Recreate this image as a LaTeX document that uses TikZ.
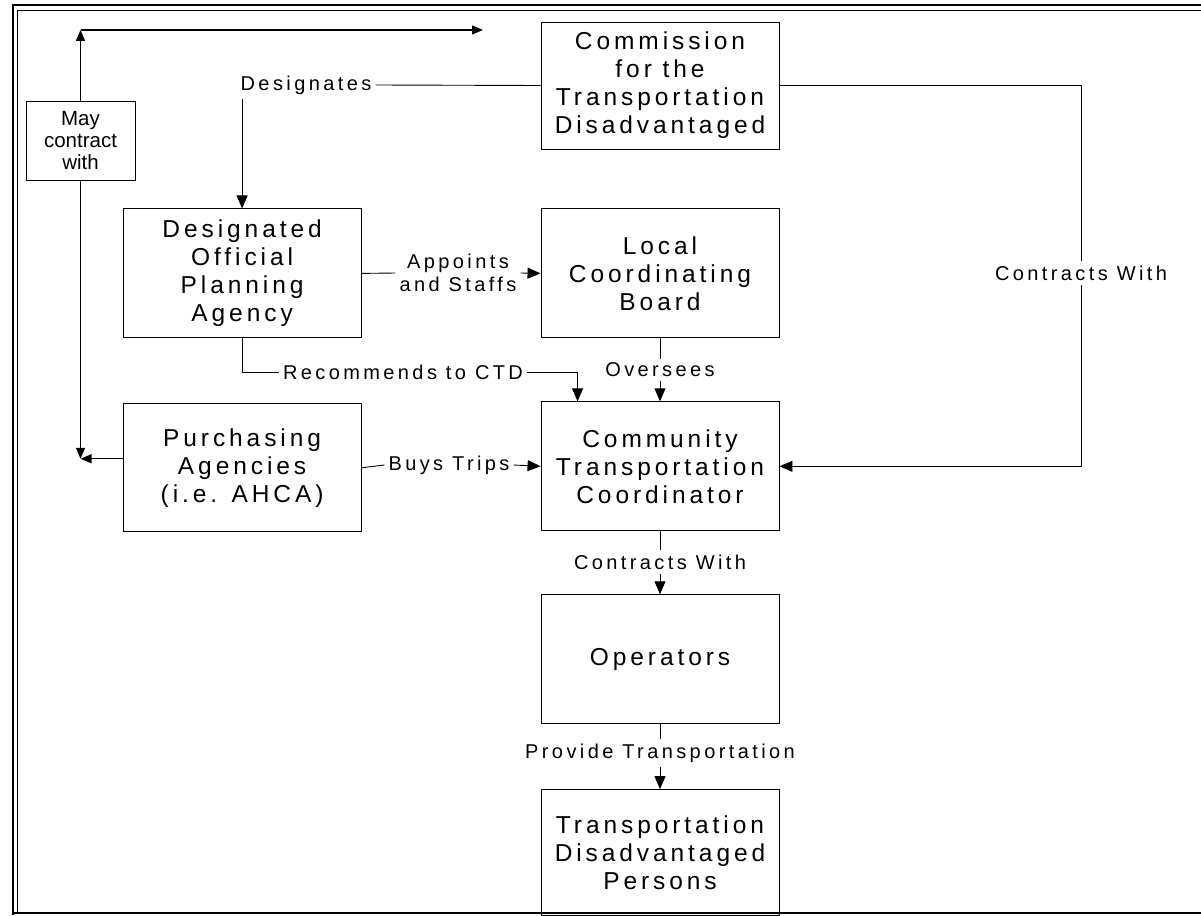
\documentclass[tikz,border=0pt]{standalone}
\usepackage{fontspec}
\setmainfont{Liberation Sans}
\newfontfamily\wideface[LetterSpace=16]{Liberation Sans}
\newfontfamily\tagface[LetterSpace=17]{Liberation Sans}
\usetikzlibrary{positioning,arrows.meta,calc}

\begin{document}
\begin{tikzpicture}[x=1pt, y=-1pt,
        agency/.style={draw, line width=0.9pt, align=center, minimum width=238pt, minimum height=129pt, inner sep=2pt, font=\wideface\fontsize{24.5}{28}\selectfont},
        maybox/.style={draw, line width=0.9pt, align=center, minimum width=109pt, minimum height=79pt, inner sep=1pt, font=\fontsize{20.5}{22}\selectfont},
        tag/.style={align=center, inner sep=4pt, font=\tagface\fontsize{20}{23}\selectfont},
        link/.style={line width=0.9pt},
        flow/.style={link, -{Triangle[width=11pt,length=13pt]}},
        loopflow/.style={line width=1.3pt, -{Triangle[width=9pt,length=11pt]}},
        ]
    \useasboundingbox (0,0) rectangle (1201,915);

    % Nodes
    \node[agency, minimum height=127pt] (ctd) at (660,85.5) {Commission\\for the\\Transportation\\Disadvantaged};
    \node[agency] (lcb) [below=59pt of ctd] {Local\\Coordinating\\Board};
    \node[agency] (ctc) [below=63pt of lcb] {Community\\Transportation\\Coordinator};
    \node[agency] (operators) [below=63pt of ctc] {Operators};
    \node[agency, minimum height=126pt] (tdpersons) [below=65pt of operators] {Transportation\\Disadvantaged\\Persons};
    \node[agency] (dopa) [left=179pt of lcb] {Designated\\Official\\Planning\\Agency};
    \node[agency, minimum height=128pt] (purchasing) [below=65pt of dopa] {Purchasing\\Agencies\\(i.e. AHCA)};
    \node[maybox] (maycontract) at (80.5,140.5) {May\\contract\\with};

    % Labels
    \node[tag] (designates) at (306,85) {Designates};
    \node[tag] (appoints) at (458,273) {Appoints\\and Staffs};
    \node[tag] (recommends) at (403,372) {Recommends to CTD};
    \node[tag] (oversees) at (660,370) {Oversees};
    \node[tag] (buys) at (449,465) {Buys Trips};
    \node[tag] (cwright) at (1081,273) {Contracts With};
    \node[tag] (cwlow) at (660,562) {Contracts With};
    \node[tag] (provide) at (660,753) {Provide Transportation};
    \coordinate (ctcin) at ([xshift=37pt]ctc.north west);
    \coordinate (corner) at (80.5,30);
    \coordinate (topend) at (483,30);
    \coordinate (purchout) at ([yshift=9pt]purchasing.west);

    % Lines
    \draw[link] (ctd.west) -- (designates.east);
    \draw[flow] (designates.south -| dopa.north) -- (dopa.north);
    \draw[link] (dopa.east) -- (appoints.west);
    \draw[flow] (appoints.east) -- (lcb.west);
    \draw[link] (dopa.south) |- (recommends.west);
    \draw[flow] (recommends.east) -| (ctcin);
    \draw[link] (lcb.south) -- (oversees.north);
    \draw[flow] (oversees.south) -- (ctc.north);
    \draw[link] (purchasing.east) -- (buys.west);
    \draw[flow] (buys.east) -- (ctc.west);
    \draw[link] (ctd.east) -| (cwright.north);
    \draw[flow] (cwright.south) |- (ctc.east);
    \draw[link] (ctc.south) -- (cwlow.north);
    \draw[flow] (cwlow.south) -- (operators.north);
    \draw[link] (operators.south) -- (provide.north);
    \draw[flow] (provide.south) -- (tdpersons.north);

    \draw[loopflow] (maycontract.north) -- (corner);
    \draw[loopflow] (corner) -- (topend);
    \draw[loopflow] (maycontract.south) -- (maycontract.south |- purchout);
    \draw[loopflow] (purchout) -- (maycontract.south |- purchout);

    % Frame
    \draw[line width=1.5pt] (13,915) -- (13,5) -- (1201,5);
    \draw[line width=0.8pt] (17,913) -- (17,10) -- (1201,10);
    \draw[line width=2pt] (13,913) -- (1201,913);
\end{tikzpicture}
\end{document}
